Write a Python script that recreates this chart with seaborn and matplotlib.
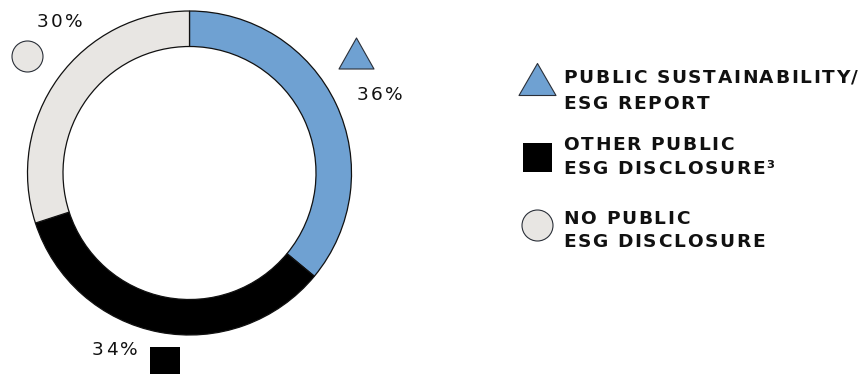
import matplotlib
matplotlib.use("Agg")
import matplotlib.pyplot as plt
from matplotlib.path import Path
from matplotlib.font_manager import FontProperties, findfont, get_font
import seaborn as sns

# Share of companies by type of ESG disclosure
categories = ["PUBLIC SUSTAINABILITY/\nESG REPORT",
              "OTHER PUBLIC\nESG DISCLOSURE\u00b3",
              "NO PUBLIC\nESG DISCLOSURE"]
shares = [36, 34, 30]
value_labels = ["36%", "34%", "30%"]
colors = ["#6FA1D2", "#000000", "#E8E6E3"]

sns.set_theme(style="white")
plt.rcParams["font.family"] = ["DejaVu Sans"]

W, H = 864, 374
DPI = 100
fig = plt.figure(figsize=(W / DPI, H / DPI), dpi=DPI)
ax = fig.add_axes([0, 0, 1, 1])


def Y(y):
    # convert a top-down pixel row into the axes' bottom-up coordinate
    return H - y


def glyph_advances(s, fp):
    font = get_font(findfont(fp))
    font.set_size(fp.get_size_in_points(), DPI)
    return [font.load_char(ord(c)).linearHoriAdvance / 65536 for c in s]


def spaced_text(x, y, s, fp, tracking, ha="left"):
    """Draw s one glyph at a time with extra letter spacing (pixels)."""
    adv = glyph_advances(s, fp)
    total = sum(adv) + tracking * (len(s) - 1)
    x0 = x - total / 2 if ha == "center" else x
    for c, a in zip(s, adv):
        ax.text(x0, y, c, ha="left", va="baseline", fontproperties=fp,
                color="#111111")
        x0 += a + tracking


def tracking_for(s, fp, width):
    adv = glyph_advances(s, fp)
    return (width - sum(adv)) / (len(s) - 1)


# donut ring, clockwise from 12 o'clock
ax.pie(shares, colors=colors, startangle=90, counterclock=False,
       center=(189.5, Y(173)), radius=162,
       wedgeprops=dict(width=35.5, edgecolor="#111111", linewidth=0.9))
ax.set_xlim(0, W)
ax.set_ylim(0, H)
ax.set_aspect("equal")
ax.axis("off")


def tri(h):
    return Path([(-1, -h), (1, -h), (0, h), (-1, -h)],
                [Path.MOVETO, Path.LINETO, Path.LINETO, Path.CLOSEPOLY])


def pts(px):
    return (px * 0.72) ** 2


edge = dict(edgecolor="#2a2f38", linewidth=0.8)

# symbols next to the ring
sns.scatterplot(x=[355.5], y=[Y(52.5)], marker=tri(0.886), s=pts(35),
                color=colors[0], ax=ax, legend=False, **edge, zorder=5)
sns.scatterplot(x=[164.5], y=[Y(362)], marker="s", s=pts(30),
                color=colors[1], ax=ax, legend=False, edgecolor="none", zorder=5)
sns.scatterplot(x=[27], y=[Y(56)], marker="o", s=pts(31),
                color=colors[2], ax=ax, legend=False, **edge, zorder=5)

# value labels
pct_fp = FontProperties(family="DejaVu Sans", weight="normal", size=13.3)
pct_track = tracking_for("36%", pct_fp, 46)
label_pos = [(379.5, 100), (115, 355), (60, 27)]
for txt, (x, yb) in zip(value_labels, label_pos):
    spaced_text(x, Y(yb), txt, pct_fp, pct_track, ha="center")

# legend symbols
sns.scatterplot(x=[536.5], y=[Y(79)], marker=tri(0.865), s=pts(37),
                color=colors[0], ax=ax, legend=False, **edge, zorder=5)
sns.scatterplot(x=[537], y=[Y(157)], marker="s", s=pts(29),
                color=colors[1], ax=ax, legend=False, edgecolor="none", zorder=5)
sns.scatterplot(x=[536.5], y=[Y(224.5)], marker="o", s=pts(31),
                color=colors[2], ax=ax, legend=False, **edge, zorder=5)

# legend text, two lines per entry
leg_fp = FontProperties(family="DejaVu Sans", weight="bold", size=13.3)
leg_track = tracking_for("PUBLIC SUSTAINABILITY/", leg_fp, 295)
baselines = [(82.5, 108.5), (149.5, 173.5), (223.5, 247)]
for cat, (b1, b2) in zip(categories, baselines):
    l1, l2 = cat.split("\n")
    for line, yb in ((l1, b1), (l2, b2)):
        spaced_text(563, Y(yb), line, leg_fp, leg_track)

fig.savefig("out.png", dpi=DPI)
